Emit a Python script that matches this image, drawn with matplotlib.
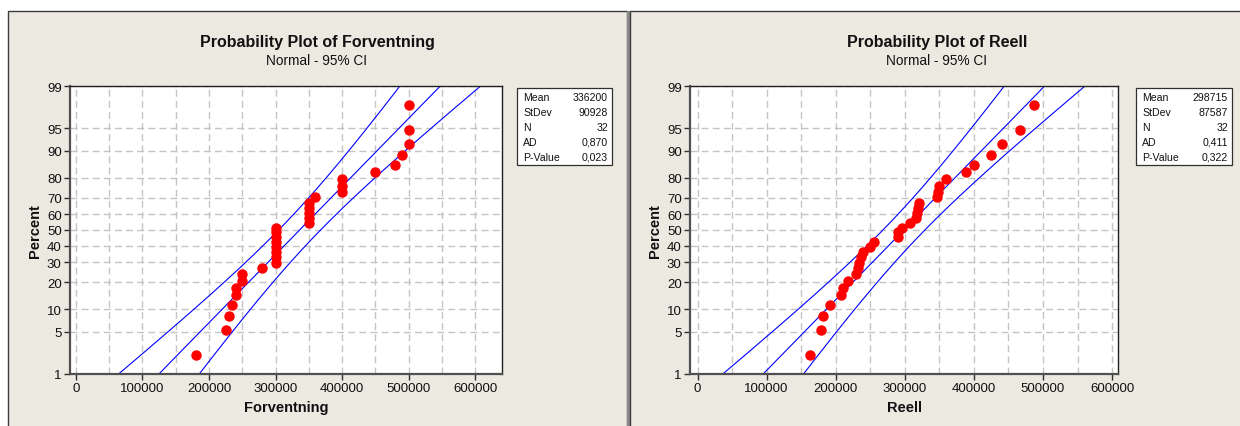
import matplotlib
matplotlib.use('Agg')
import matplotlib.pyplot as plt
import numpy as np
from statistics import NormalDist
from matplotlib.patches import Rectangle

plt.rcParams['font.family'] = ['Liberation Sans', 'DejaVu Sans']

# ---------------- data ----------------
forventning = [180000, 225000, 230000, 235000, 240000, 240000, 250000, 250000,
               280000, 300000, 300000, 300000, 300000, 300000, 300000, 300000,
               300000, 350000, 350000, 350000, 350000, 350000, 360000, 400000,
               400000, 400000, 450000, 480000, 490000, 500000, 500000, 500000]
reell = [163000, 178000, 182000, 192000, 207000, 210000, 218000, 230000,
         232000, 234000, 236000, 240000, 249000, 256000, 290000, 290000,
         296000, 308000, 316000, 318000, 319000, 320000, 347000, 348000,
         349000, 360000, 388000, 400000, 425000, 440000, 467000, 487000]

forv_mean, forv_sd = 336200, 90928
reell_mean, reell_sd = 298715, 87587

stat_labels = ['Mean', 'StDev', 'N', 'AD', 'P-Value']
forv_stat_values = ['336200', '90928', '32', '0,870', '0,023']
reell_stat_values = ['298715', '87587', '32', '0,411', '0,322']

pct_ticks = [1, 5, 10, 20, 30, 40, 50, 60, 70, 80, 90, 95, 99]
x_ticks = [0, 100000, 200000, 300000, 400000, 500000, 600000]
x_grid = list(range(0, 600001, 50000))

# ---------------- figure ----------------
W, H = 1240, 427
DPI = 100
fig = plt.figure(figsize=(W / DPI, H / DPI), dpi=DPI)
fig.patch.set_facecolor('white')
nd = NormalDist()
PANEL = '#ECE9E0'


def fx(x):
    return x / W


def fy(y):
    return 1 - y / H


def rect_px(x0, y0, x1, y1, **kw):
    r = Rectangle((fx(x0), fy(y1)), fx(x1) - fx(x0), fy(y0) - fy(y1),
                  transform=fig.transFigure, **kw)
    fig.patches.append(r)
    return r


# panels
rect_px(8, 12, 627, 430, facecolor=PANEL, edgecolor='#3c3c3c', lw=1.0, zorder=-5)
rect_px(627, 12, 630, 430, facecolor='#8a8a8a', edgecolor='none', zorder=-5)
rect_px(630, 12, 1250, 430, facecolor=PANEL, edgecolor='#3c3c3c', lw=1.0, zorder=-5)


def prob_panel(data, mean, sd, values, title, xlabel, ax_px, xlim, leg_px, cx):
    x0, y0, x1, y1 = ax_px
    ax = fig.add_axes([fx(x0), fy(y1), fx(x1) - fx(x0), fy(y0) - fy(y1)])
    ax.set_facecolor('white')
    n = len(data)
    xs = np.sort(np.array(data, dtype=float))
    ranks = np.arange(1, n + 1)
    pp = (ranks - 0.3) / (n + 0.4)
    zs = np.array([nd.inv_cdf(p) for p in pp])

    zlo, zhi = nd.inv_cdf(0.01), nd.inv_cdf(0.99)
    zz = np.linspace(zlo - 0.2, zhi + 0.2, 300)
    fit = mean + sd * zz
    half = 1.96 * sd * np.sqrt(1.0 / n + zz ** 2 / (2.0 * n))
    for line in (fit, fit - half, fit + half):
        ax.plot(line, zz, color='#0000FF', lw=0.8, zorder=2)

    ax.plot(xs, zs, 'o', color='#FF0000', mec='#FF0000', ms=6.5, zorder=3)

    ax.set_xlim(*xlim)
    ax.set_ylim(zlo, zhi)
    ax.set_yticks([nd.inv_cdf(p / 100) for p in pct_ticks])
    ax.set_yticklabels([str(p) for p in pct_ticks])
    ax.set_xticks(x_ticks)
    ax.set_xticklabels([str(t) for t in x_ticks])
    ax.set_xticks(x_grid, minor=True)
    ax.tick_params(axis='both', which='major', direction='out', length=4,
                   width=1, color='#303030', labelsize=9.5, pad=2,
                   labelcolor='#111111')
    ax.tick_params(axis='x', which='minor', length=0)
    gkw = dict(color='#C4C4C4', linestyle=(0, (5, 3)), lw=1)
    ax.grid(True, axis='x', which='both', **gkw)
    ax.grid(True, axis='y', which='major', **gkw)
    ax.set_axisbelow(True)
    for s in ('left', 'bottom'):
        ax.spines[s].set_color('#505050')
        ax.spines[s].set_linewidth(1.6)
    for s in ('top', 'right'):
        ax.spines[s].set_color('#202020')
        ax.spines[s].set_linewidth(1.0)

    # titles
    fig.text(fx(cx), fy(43), title, ha='center', va='center',
             fontsize=11.5, weight='bold', color='#111111')
    fig.text(fx(cx), fy(61), 'Normal - 95% CI', ha='center', va='center',
             fontsize=9.8, color='#111111')
    fig.text(fx((x0 + x1) / 2), fy(408), xlabel, ha='center', va='center',
             fontsize=10.5, weight='bold', color='#111111')
    fig.text(fx(x0 - 35), fy((y0 + y1) / 2), 'Percent', ha='center',
             va='center', rotation=90, fontsize=10.5, weight='bold',
             color='#111111')

    # stats box
    lx0, ly0, lx1, ly1 = leg_px
    rect_px(lx0, ly0, lx1, ly1, facecolor='white', edgecolor='#303030',
            lw=0.9, zorder=1)
    for i, (lab, val) in enumerate(zip(stat_labels, values)):
        yy = ly0 + 9 + i * 15
        fig.text(fx(lx0 + 6), fy(yy), lab, ha='left', va='center',
                 fontsize=7.6, color='#111111')
        fig.text(fx(lx1 - 4), fy(yy), val, ha='right', va='center',
                 fontsize=7.6, color='#111111')
    return ax


prob_panel(forventning, forv_mean, forv_sd, forv_stat_values,
           'Probability Plot of Forventning', 'Forventning',
           (70, 87, 502, 375), (-9000, 640500), (517, 89, 612, 166), 317)
prob_panel(reell, reell_mean, reell_sd, reell_stat_values,
           'Probability Plot of Reell', 'Reell',
           (690, 87, 1118, 375), (-10900, 608600), (1136, 89, 1232, 166), 937)

fig.savefig('out.png', dpi=DPI, facecolor=fig.get_facecolor())
